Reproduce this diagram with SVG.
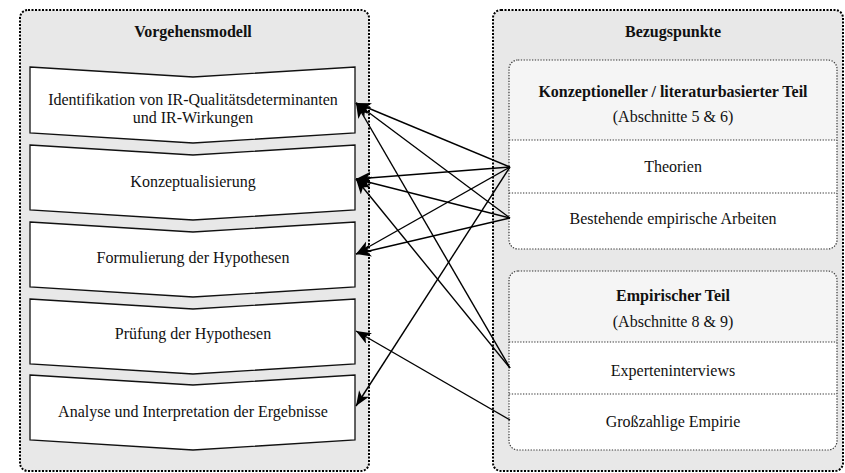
<svg xmlns="http://www.w3.org/2000/svg" width="845" height="473" viewBox="0 0 845 473">
<style>
text{font-family:"Liberation Serif","Times New Roman",serif;font-size:16px;fill:#111;text-anchor:middle}
.b{font-weight:bold}
.outer{fill:#e8e8e8;stroke:#000;stroke-width:2;stroke-dasharray:2 1.5}
.inner{stroke:#333;stroke-width:1.2;stroke-dasharray:1.3 1.5}
.div{stroke:#333;stroke-width:1.2;stroke-dasharray:1.3 1.5;fill:none}
.chev{fill:#fff;stroke:#111;stroke-width:1.3}
.con line{stroke:#000;stroke-width:1.4}
</style>
<defs>
<marker id="ah" markerUnits="userSpaceOnUse" markerWidth="16" markerHeight="13" refX="15" refY="6" orient="auto">
<path d="M0,0 L15,6 L0,12 L4,6 Z" fill="#000"/>
</marker>
<clipPath id="c1"><rect x="509" y="60" width="328" height="189" rx="9"/></clipPath>
<clipPath id="c2"><rect x="509" y="271" width="328" height="179" rx="9"/></clipPath>
</defs>

<g id="vorgehensmodell">
<rect class="outer" x="20" y="10" width="349" height="461" rx="8"/>
<text class="b" x="193" y="37">Vorgehensmodell</text>
</g>

<g id="step1">
<path class="chev" d="M30,67 L193,77 L355,67 L355,133 L193,143 L30,133 Z"/>
<text x="193" y="105">Identifikation von IR-Qualitätsdeterminanten</text>
<text x="193" y="123">und IR-Wirkungen</text>
</g>
<g id="step2">
<path class="chev" d="M30,145 L193,155 L355,145 L355,210 L193,220 L30,210 Z"/>
<text x="193" y="187">Konzeptualisierung</text>
</g>
<g id="step3">
<path class="chev" d="M30,222 L193,232 L355,222 L355,287 L193,297 L30,287 Z"/>
<text x="193" y="263">Formulierung der Hypothesen</text>
</g>
<g id="step4">
<path class="chev" d="M30,299 L193,309 L355,299 L355,364 L193,374 L30,364 Z"/>
<text x="193" y="339">Prüfung der Hypothesen</text>
</g>
<g id="step5">
<path class="chev" d="M30,375 L193,385 L355,375 L355,440 L193,450 L30,440 Z"/>
<text x="193" y="417">Analyse und Interpretation der Ergebnisse</text>
</g>

<g id="bezugspunkte">
<rect class="outer" x="493" y="10" width="350" height="461" rx="8"/>
<text class="b" x="673" y="37">Bezugspunkte</text>
</g>

<g id="konzeptionell">
<g clip-path="url(#c1)">
<rect x="509" y="60" width="328" height="189" fill="#fff"/>
<rect x="509" y="60" width="328" height="80" fill="#f5f5f5"/>
</g>
<rect class="inner" x="509" y="60" width="328" height="189" rx="9" fill="none"/>
<line class="div" x1="509" y1="140" x2="837" y2="140"/>
<line class="div" x1="509" y1="193" x2="837" y2="193"/>
<text class="b" x="673" y="97">Konzeptioneller / literaturbasierter Teil</text>
<text x="673" y="122">(Abschnitte 5 &amp; 6)</text>
</g>
<g id="theorien"><text x="673" y="172">Theorien</text></g>
<g id="bestehende"><text x="673" y="224">Bestehende empirische Arbeiten</text></g>

<g id="empirisch">
<g clip-path="url(#c2)">
<rect x="509" y="271" width="328" height="179" fill="#fff"/>
<rect x="509" y="271" width="328" height="71" fill="#f5f5f5"/>
</g>
<rect class="inner" x="509" y="271" width="328" height="179" rx="9" fill="none"/>
<line class="div" x1="509" y1="342" x2="837" y2="342"/>
<line class="div" x1="509" y1="394" x2="837" y2="394"/>
<text class="b" x="673" y="301">Empirischer Teil</text>
<text x="673" y="327">(Abschnitte 8 &amp; 9)</text>
</g>
<g id="experten"><text x="673" y="376">Experteninterviews</text></g>
<g id="grosszahlig"><text x="673" y="427">Großzahlige Empirie</text></g>

<g id="connectors" class="con">
<line x1="510" y1="167" x2="356" y2="103" marker-end="url(#ah)"/>
<line x1="510" y1="218" x2="356" y2="103" marker-end="url(#ah)"/>
<line x1="510" y1="368" x2="356" y2="103" marker-end="url(#ah)"/>
<line x1="510" y1="167" x2="356" y2="179" marker-end="url(#ah)"/>
<line x1="510" y1="218" x2="356" y2="179" marker-end="url(#ah)"/>
<line x1="510" y1="368" x2="356" y2="179" marker-end="url(#ah)"/>
<line x1="510" y1="167" x2="356" y2="254" marker-end="url(#ah)"/>
<line x1="510" y1="218" x2="356" y2="254" marker-end="url(#ah)"/>
<line x1="510" y1="420" x2="356" y2="331" marker-end="url(#ah)"/>
<line x1="510" y1="167" x2="356" y2="406" marker-end="url(#ah)"/>
</g>
</svg>
